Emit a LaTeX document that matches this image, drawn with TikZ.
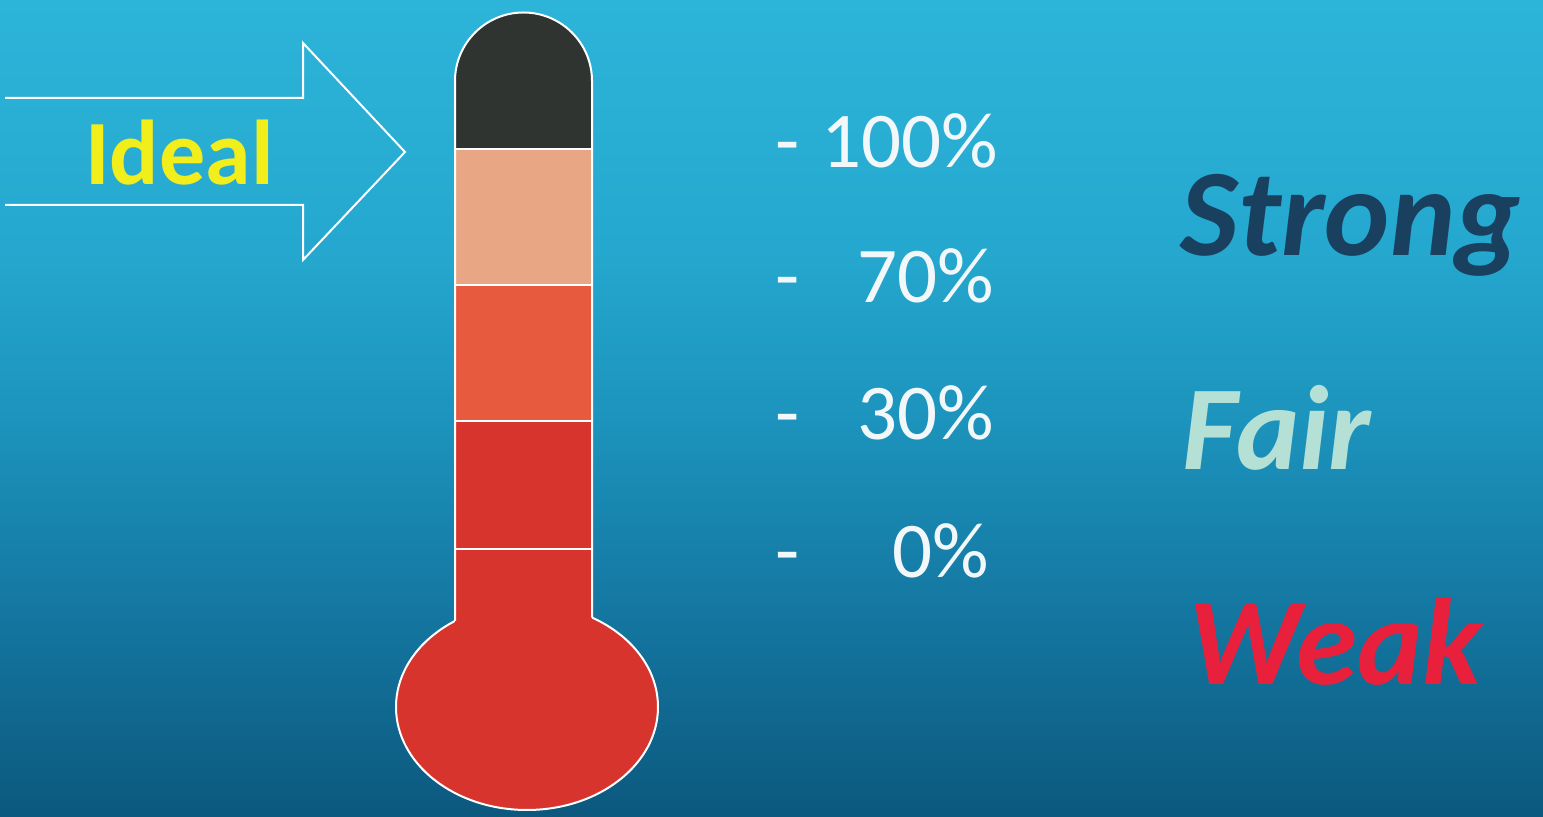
\documentclass[tikz,border=0pt]{standalone}
\usepackage{fontspec}
\setmainfont{Carlito}
\definecolor{bgtop}{HTML}{2DB4D9}
\definecolor{bgmidA}{HTML}{25A8CF}
\definecolor{bgmidB}{HTML}{1C93BC}
\definecolor{bgmidC}{HTML}{1478A2}
\definecolor{bgbot}{HTML}{0C587E}
\definecolor{tblack}{HTML}{2F3431}
\definecolor{tpeach}{HTML}{E8A685}
\definecolor{torange}{HTML}{E85A3E}
\definecolor{tred}{HTML}{D8342E}
\definecolor{idealyellow}{HTML}{F2EE1C}
\definecolor{strongcol}{HTML}{1A4060}
\definecolor{faircol}{HTML}{B5E0D6}
\definecolor{weakcol}{HTML}{E8203C}
\definecolor{pctwhite}{HTML}{F2F8FA}
\pgfdeclareverticalshading{bgshade}{100bp}{color(0bp)=(bgbot); color(25bp)=(bgbot); color(38bp)=(bgmidC); color(49bp)=(bgmidB); color(60bp)=(bgmidA); color(75bp)=(bgtop); color(100bp)=(bgtop)}
\tikzset{
  outline/.style={draw=white, line width=1pt},
  sepline/.style={draw=white, line width=0.8pt},
  pct/.style={text=pctwhite, inner sep=0pt, font=\fontsize{39.5}{40}\selectfont},
  rating/.style={inner sep=0pt, anchor=base west, font=\fontsize{62}{64}\selectfont\bfseries\itshape},
}
\begin{document}
\begin{tikzpicture}[x=0.5pt,y=-0.5pt]
\useasboundingbox (0,0) rectangle (1543,817);
\shade[shading=bgshade] (0,0) rectangle (1543,817);

% arrow
\draw[outline, line join=miter] (5,98) -- (303,98) -- (303,43) -- (405,152) -- (303,260) -- (303,205) -- (5,205);
\node[anchor=base west, inner sep=0pt, text=idealyellow, font=\fontsize{46}{48}\selectfont\bfseries] (ideal) at (85,185) {Ideal};

% bulb
\filldraw[fill=tred, outline] (527,707) ellipse [x radius=131, y radius=103];
% tube sections
\fill[tred] (455,549) rectangle (592,640);
\fill[tred] (455,421) rectangle (592,549);
\fill[torange] (455,285) rectangle (592,421);
\fill[tpeach] (455,149) rectangle (592,285);
\fill[tblack] (455,149) -- (455,81) arc[start angle=180, end angle=360, x radius=68.5, y radius=68.5] -- (592,149) -- cycle;
% tube outline
\draw[outline] (455,621) -- (455,81) arc[start angle=180, end angle=360, x radius=68.5, y radius=68.5] -- (592,617.6);
% separators
\draw[sepline] (455,149) -- (592,149);
\draw[sepline] (455,285) -- (592,285);
\draw[sepline] (455,421) -- (592,421);
\draw[sepline] (455,549) -- (592,549);

% percentages
\node[pct, anchor=base west] (d1) at (775,168) {-};
\node[pct, anchor=base east] (p1) at (998,168) {100\%};
\node[pct, anchor=base west] (d2) at (775,303) {-};
\node[pct, anchor=base east] (p2) at (994,303) {70\%};
\node[pct, anchor=base west] (d3) at (775,440) {-};
\node[pct, anchor=base east] (p3) at (994,440) {30\%};
\node[pct, anchor=base west] (d4) at (775,578) {-};
\node[pct, anchor=base east] (p4) at (989,578) {0\%};

% ratings
\node[rating, text=strongcol] (strong) at (1180,256) {Strong};
\node[rating, text=faircol, font=\fontsize{60}{62}\selectfont\bfseries\itshape] (fair) at (1182,470) {Fair};
\node[rating, text=weakcol] (weak) at (1188,685) {Weak};
\end{tikzpicture}
\end{document}
